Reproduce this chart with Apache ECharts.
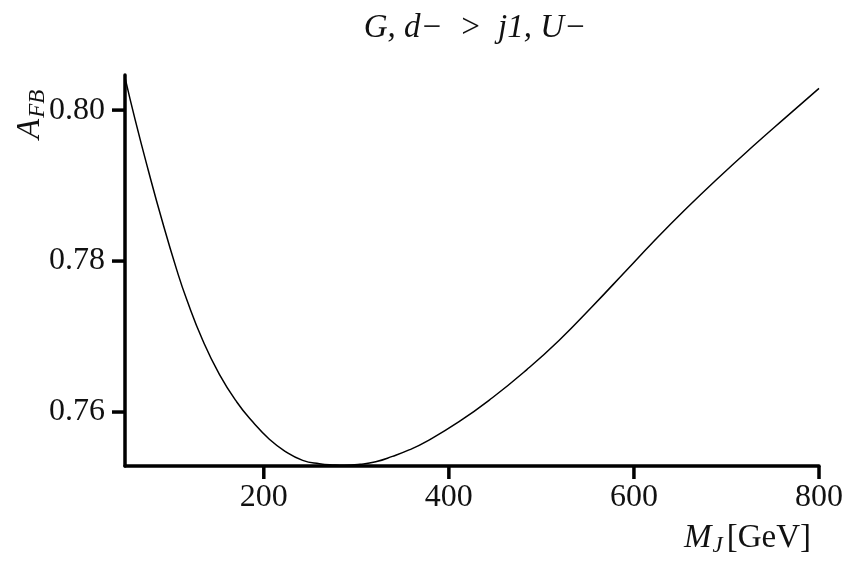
<!DOCTYPE html>
<html>
<head>
<meta charset="utf-8">
<script src="https://cdn.jsdelivr.net/npm/echarts@6/dist/echarts.min.js"></script>
<style>
  html, body { margin: 0; padding: 0; background: #fff; }
  #chart { width: 846px; height: 566px; }
</style>
</head>
<body>
<div id="chart"></div>
<script>
// M_J [GeV] and A_FB
var mass = [50, 61, 75, 90, 106, 117, 134, 152, 171, 188, 206, 223, 242, 260, 277, 287, 304, 321, 339, 357, 376, 411, 447, 484, 519, 555, 592, 620, 656, 692, 728, 765, 800];
var afb = [0.8043, 0.7987, 0.7921, 0.7854, 0.7788, 0.7748, 0.7695, 0.7650, 0.7613, 0.7587, 0.7564, 0.7548, 0.7536, 0.75315, 0.75298, 0.75294, 0.75307, 0.75341, 0.75412, 0.75498, 0.75612, 0.75872, 0.76189, 0.76559, 0.76948, 0.77398, 0.77879, 0.78243, 0.78689, 0.79111, 0.79514, 0.79914, 0.80288];
var yTicks = [0.76, 0.78, 0.80];
var xTicks = [200, 400, 600, 800];

var xMin = 50, xMax = 800;
var yMin = 0.75285, yMax = 0.80465;

var points = mass.map(function (m, i) { return [m, afb[i]]; });
var serif = '"Liberation Serif", "DejaVu Serif", serif';

// outward tick marks, placed through the axes' own scales
function tickSeries(values, vertical) {
  return {
    type: 'custom',
    silent: true,
    clip: false,
    data: values.map(function (v) { return vertical ? [v, yMin] : [xMin, v]; }),
    renderItem: function (params, api) {
      var p = api.coord([api.value(0), api.value(1)]);
      var shape = vertical
        ? { x1: p[0], y1: p[1], x2: p[0], y2: p[1] + 13 }
        : { x1: p[0] - 13, y1: p[1], x2: p[0], y2: p[1] };
      return { type: 'line', shape: shape, style: { stroke: '#000', lineWidth: 3.5 } };
    }
  };
}

var chart = echarts.init(document.getElementById('chart'));
chart.setOption({
  animation: false,
  backgroundColor: '#fff',
  title: {
    text: 'G, d\u2212  >  j1, U\u2212',
    left: 470,
    textAlign: 'center',
    top: 7,
    textStyle: { fontFamily: serif, fontStyle: 'italic', fontWeight: 'normal', fontSize: 33, color: '#111' }
  },
  grid: { left: 125, right: 26, top: 75, bottom: 100 },
  xAxis: {
    type: 'value',
    min: xMin,
    max: xMax,
    axisLine: { lineStyle: { color: '#000', width: 3.5 } },
    axisTick: { show: false },
    axisLabel: { customValues: xTicks, margin: 16, fontFamily: serif, fontSize: 32, color: '#111', formatter: function (v) { return String(v); } },
    splitLine: { show: false }
  },
  yAxis: {
    type: 'value',
    min: yMin,
    max: yMax,
    axisLine: { show: true, lineStyle: { color: '#000', width: 3.5 } },
    axisTick: { show: false },
    axisLabel: { customValues: yTicks, margin: 20, fontFamily: serif, fontSize: 32, color: '#111', formatter: function (v) { return v.toFixed(2); } },
    splitLine: { show: false }
  },
  graphic: [
    {
      type: 'text',
      left: 684,
      top: 522,
      style: {
        text: '{m|M}{s|J}{n|[GeV]}',
        fill: '#111',
        rich: {
          m: { fontFamily: serif, fontStyle: 'italic', fontSize: 33, fill: '#111' },
          s: { fontFamily: serif, fontStyle: 'italic', fontSize: 23, fill: '#111', padding: [14, 4, 0, 1] },
          n: { fontFamily: serif, fontSize: 33, fill: '#111' }
        }
      }
    },
    {
      type: 'text',
      x: 12,
      y: 139,
      rotation: Math.PI / 2,
      style: {
        text: '{a|A}{s|FB}',
        fill: '#111',
        rich: {
          a: { fontFamily: serif, fontStyle: 'italic', fontSize: 33, fill: '#111' },
          s: { fontFamily: serif, fontStyle: 'italic', fontSize: 23, fill: '#111', padding: [14, 0, 0, 1] }
        }
      }
    }
  ],
  series: [
    {
      type: 'line',
      data: points,
      smooth: 0.5,
      showSymbol: false,
      lineStyle: { color: '#000', width: 1.5 }
    },
    tickSeries(xTicks, true),
    tickSeries(yTicks, false)
  ]
});
</script>
</body>
</html>
